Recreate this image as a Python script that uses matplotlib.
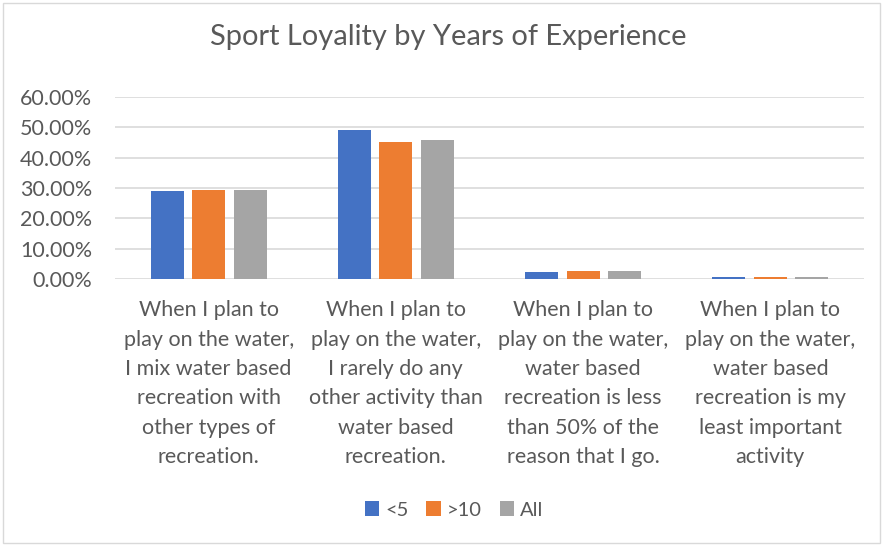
import matplotlib
matplotlib.use("Agg")
import matplotlib.pyplot as plt
import numpy as np
from matplotlib.patches import Rectangle

categories = [
    "When I plan to\nplay on the water,\nI mix water based\nrecreation with\nother types of\nrecreation.",
    "When I plan to\nplay on the water,\nI rarely do any\nother activity than\nwater based\nrecreation.",
    "When I plan to\nplay on the water,\nwater based\nrecreation is less\nthan 50% of the\nreason that I go.",
    "When I plan to\nplay on the water,\nwater based\nrecreation is my\nleast important\nactivity",
]
series_names = ["<5", ">10", "All"]
lt5 = [0.289, 0.492, 0.024, 0.0075]
gt10 = [0.292, 0.451, 0.026, 0.0065]
all_ = [0.292, 0.457, 0.026, 0.0065]
colors = ["#4472C4", "#ED7D31", "#A5A5A5"]
yticks = [0, 0.1, 0.2, 0.3, 0.4, 0.5, 0.6]

plt.rcParams['font.family'] = ['Lato', 'DejaVu Sans']
txt = "#595959"

fig = plt.figure(figsize=(8.84, 5.45), dpi=100)
ax = fig.add_axes([115/884, 1-279.3/545, (864-115)/884, (279.3-96.7)/545])

x = np.arange(len(categories))
w = 0.176
step = 0.222
for i, (vals, name) in enumerate(zip([lt5, gt10, all_], series_names)):
    ax.bar(x + (i-1)*step, vals, width=w, color=colors[i], label=name, zorder=3)

ax.set_xlim(-0.5, len(categories)-0.5)
ax.set_ylim(0, 0.6)
ax.set_yticks(yticks)
ax.set_yticklabels([f"{v*100:.2f}%" for v in yticks], fontsize=15.5, color=txt)
ax.set_xticks(x)
ax.set_xticklabels(categories, fontsize=15.5, color=txt, linespacing=1.59, va='top')
ax.tick_params(axis='both', length=0)
ax.tick_params(axis='x', pad=15)
ax.tick_params(axis='y', pad=16.5)
for s in ax.spines.values():
    s.set_visible(False)
ax.grid(axis='y', color='#D9D9D9', linewidth=1.2, zorder=0)
ax.set_axisbelow(True)

fig.text(448/884, 1-45/545, "Sport Loyality by Years of Experience", ha='center', va='baseline',
         fontsize=20.9, color=txt)

leg = fig.legend(loc='center', bbox_to_anchor=(454/884, 1-510/545), ncol=3, frameon=False,
                 fontsize=14.5, handlelength=0.7, handleheight=0.7, handletextpad=0.3,
                 columnspacing=0.9)
for t in leg.get_texts():
    t.set_color(txt)

fig.patches.append(Rectangle((3/884, 2/545), 877/884, 540/545, transform=fig.transFigure,
                             fill=False, edgecolor='#D9D9D9', linewidth=1))
fig.savefig("out.png", dpi=100)
